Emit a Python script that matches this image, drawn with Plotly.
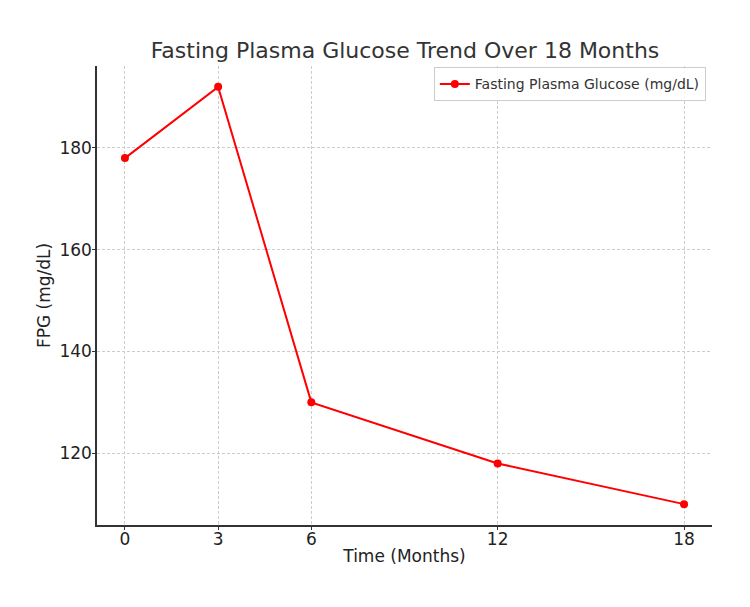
import plotly.graph_objects as go

months = [0, 3, 6, 12, 18]
fpg = [178, 192, 130, 118, 110]
x_ticks = [0, 3, 6, 12, 18]
y_ticks = [120, 140, 160, 180]

fig = go.Figure()
fig.add_trace(go.Scatter(
    x=months, y=fpg, mode="lines+markers",
    name="Fasting Plasma Glucose (mg/dL)",
    line=dict(color="#ff0000", width=2),
    marker=dict(color="#ff0000", size=8),
))

font = "DejaVu Sans"
fig.update_layout(
    width=750, height=607,
    margin=dict(l=97, r=38, t=66, b=82),
    paper_bgcolor="white", plot_bgcolor="white",
    font=dict(family=font, color="#333333"),
    title=dict(text="Fasting Plasma Glucose Trend Over 18 Months",
               x=0.54, xanchor="center", y=0.917, yanchor="middle",
               font=dict(size=22, family=font, color="#333333")),
    showlegend=True,
    legend=dict(x=0.99, y=0.997, xanchor="right", yanchor="top",
                bgcolor="rgba(255,255,255,0.8)", bordercolor="#cccccc", borderwidth=1,
                font=dict(size=14, family=font, color="#333333")),
    xaxis=dict(
        range=[-0.9, 18.9], tickvals=x_ticks, ticktext=[str(v) for v in x_ticks],
        showgrid=True, gridcolor="#cccccc", griddash="3px,2px", gridwidth=0.8,
        showline=True, linecolor="#333333", linewidth=1.5,
        ticks="outside", ticklen=3, tickcolor="#333333", ticklabelstandoff=-5,
        tickfont=dict(size=17, family=font, color="#222222"),
        title=dict(text="Time (Months)", font=dict(size=17, family=font, color="#222222"), standoff=2),
        zeroline=False,
    ),
    yaxis=dict(
        range=[105.9, 196.1], tickvals=y_ticks,
        showgrid=True, gridcolor="#cccccc", griddash="3px,2px", gridwidth=0.8,
        showline=True, linecolor="#333333", linewidth=1.5,
        ticks="outside", ticklen=3, tickcolor="#333333", ticklabelstandoff=-3,
        tickfont=dict(size=17, family=font, color="#222222"),
        title=dict(text="FPG (mg/dL)", font=dict(size=17, family=font, color="#222222"), standoff=4),
        zeroline=False,
    ),
)

fig.write_html("out.html")
